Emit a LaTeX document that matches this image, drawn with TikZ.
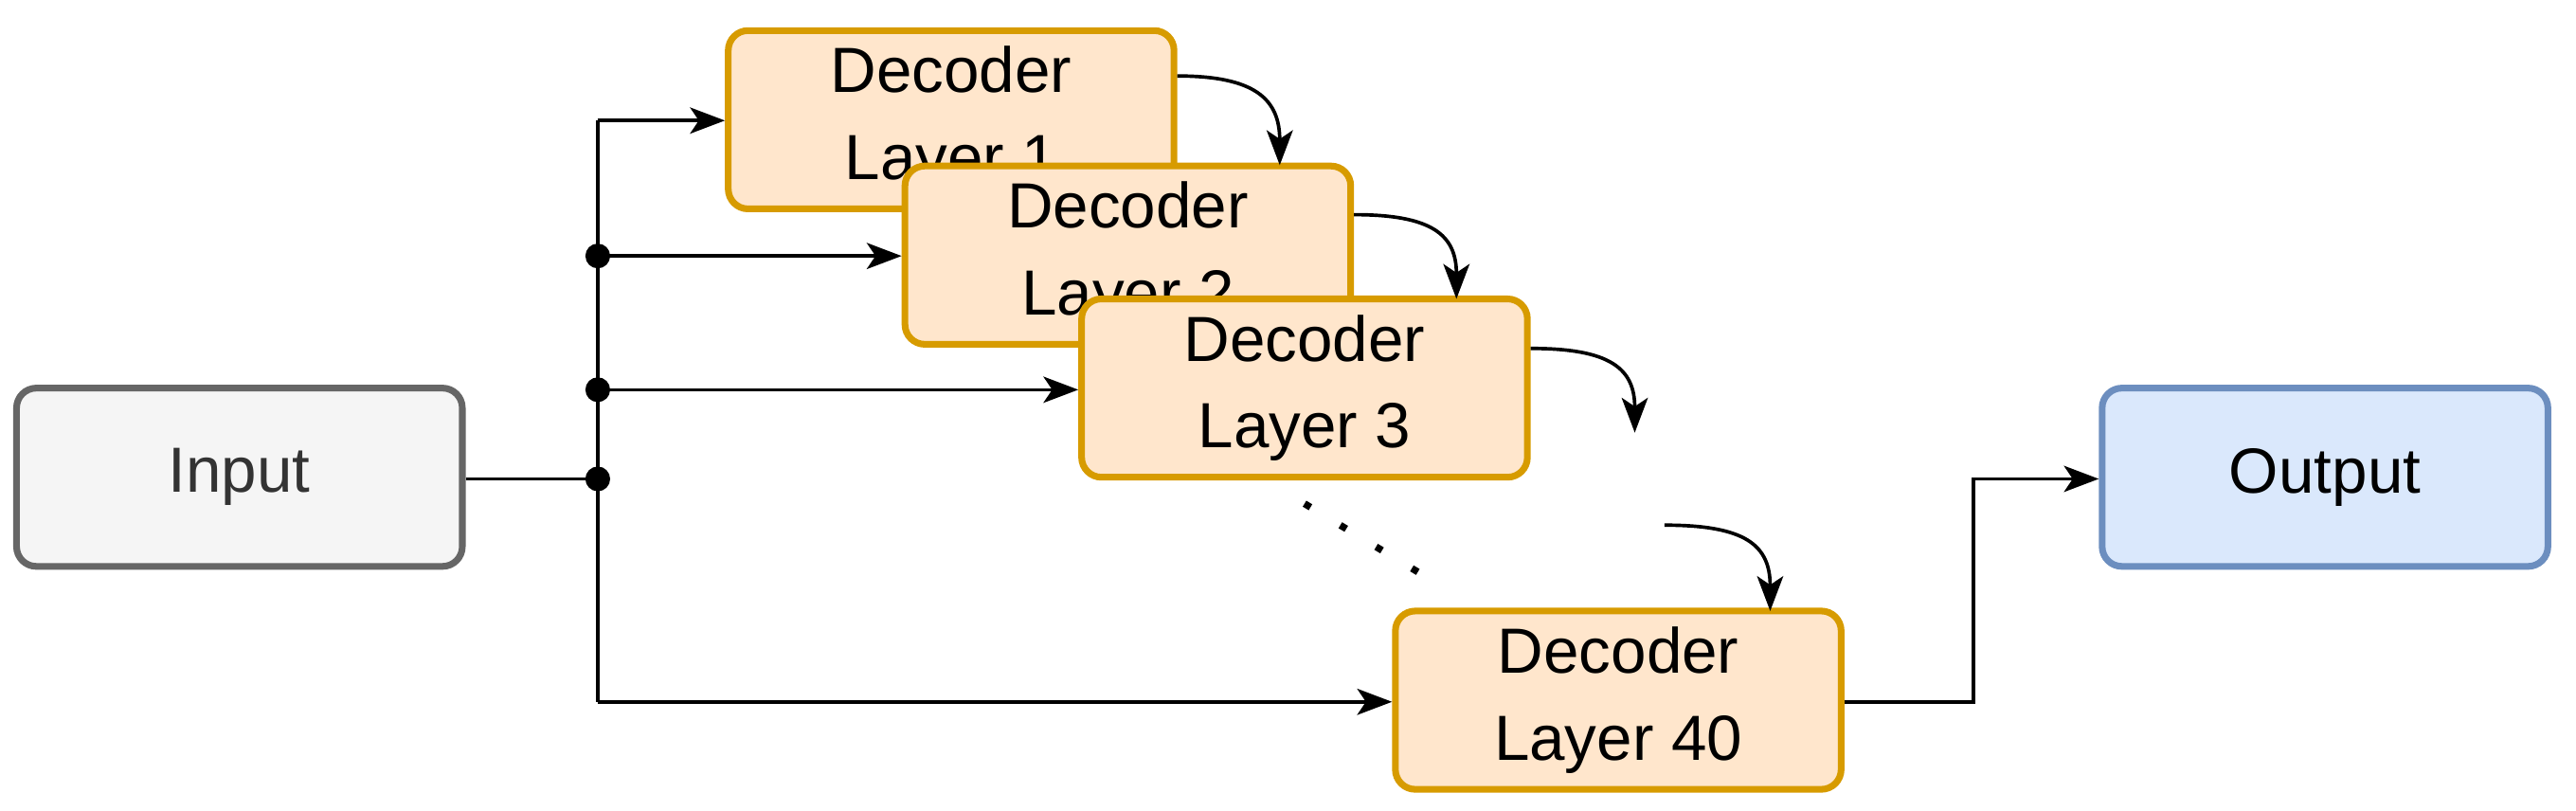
\documentclass[tikz,border=0pt]{standalone}
\usepackage{fontspec}
\setmainfont{Liberation Sans}
\usetikzlibrary{arrows.meta}
\definecolor{ofill}{HTML}{FFE6CC}\definecolor{ostroke}{HTML}{D79B00}
\definecolor{gfill}{HTML}{F5F5F5}\definecolor{gstroke}{HTML}{666666}
\definecolor{bfill}{HTML}{DAE8FC}\definecolor{bstroke}{HTML}{6C8EBF}
\begin{document}
\begin{tikzpicture}[x=0.02cm,y=-0.02cm,
 box/.style={draw,line width=2.3pt,rounded corners=0.24cm,minimum width=5.4cm,minimum height=2.16cm,align=center,font=\fontsize{22}{30}\selectfont,inner sep=0pt},
 dec/.style={box,fill=ofill,draw=ostroke},
 con/.style={line width=1.2pt,-{Stealth[length=12pt,width=9pt,inset=3pt]}},
 dot/.style={circle,fill=black,inner sep=0pt,minimum size=0.3cm}]
\useasboundingbox (0,0) rectangle (1560,491);
\node[box,fill=gfill,draw=gstroke,text=black!80] (in) at (145,289) {Input};
\node[box,fill=bfill,draw=bstroke] (out) at (1408,289) {Output};
\node[dec] (l1) at (576,72.5) {Decoder\\Layer 1};
\node[dec] (l2) at (683,154.5) {Decoder\\Layer 2};
\node[dec] (l3) at (790,235) {Decoder\\Layer 3};
\node[dec] (l40) at (980,424) {Decoder\\Layer 40};
\coordinate (j0) at (362,290);
\coordinate (top) at (362,73);
\coordinate (bot) at (362,425);
\draw[line width=1.2pt] (in.east|-j0) -- (j0);
\draw[line width=1.2pt] (top) -- (bot);
\draw[con] (top) -- (l1.west|-top);
\draw[con] (362,155) coordinate (j2) -- (l2.west|-j2);
\draw[con] (362,236) coordinate (j3) -- (l3.west|-j3);
\draw[con] (bot) -- (l40.west|-bot);
\node[dot] at (j0) {};\node[dot] at (j2) {};\node[dot] at (j3) {};
\draw[con] (l1.east|-0,46) .. controls (760,46) and (775,60) .. (775,100);
\draw[con] (l2.east|-0,130) .. controls (867,130) and (882,142) .. (882,181);
\coordinate (fa) at (990,262);
\draw[con] (l3.east|-0,211) .. controls (975,211) and (990,223) .. (fa);
\coordinate (fb) at (1008,318);
\draw[con] (fb) .. controls (1057,318) and (1072,330) .. (1072,370);
\draw[line width=2.4pt,dash pattern=on 2.4pt off 12pt] (790,305) -- (868,352);
\coordinate (k) at (1195,425);
\draw[con] (l40.east|-k) -- (k) -- (1195,290) -- (out.west|-0,290);
\end{tikzpicture}
\end{document}
